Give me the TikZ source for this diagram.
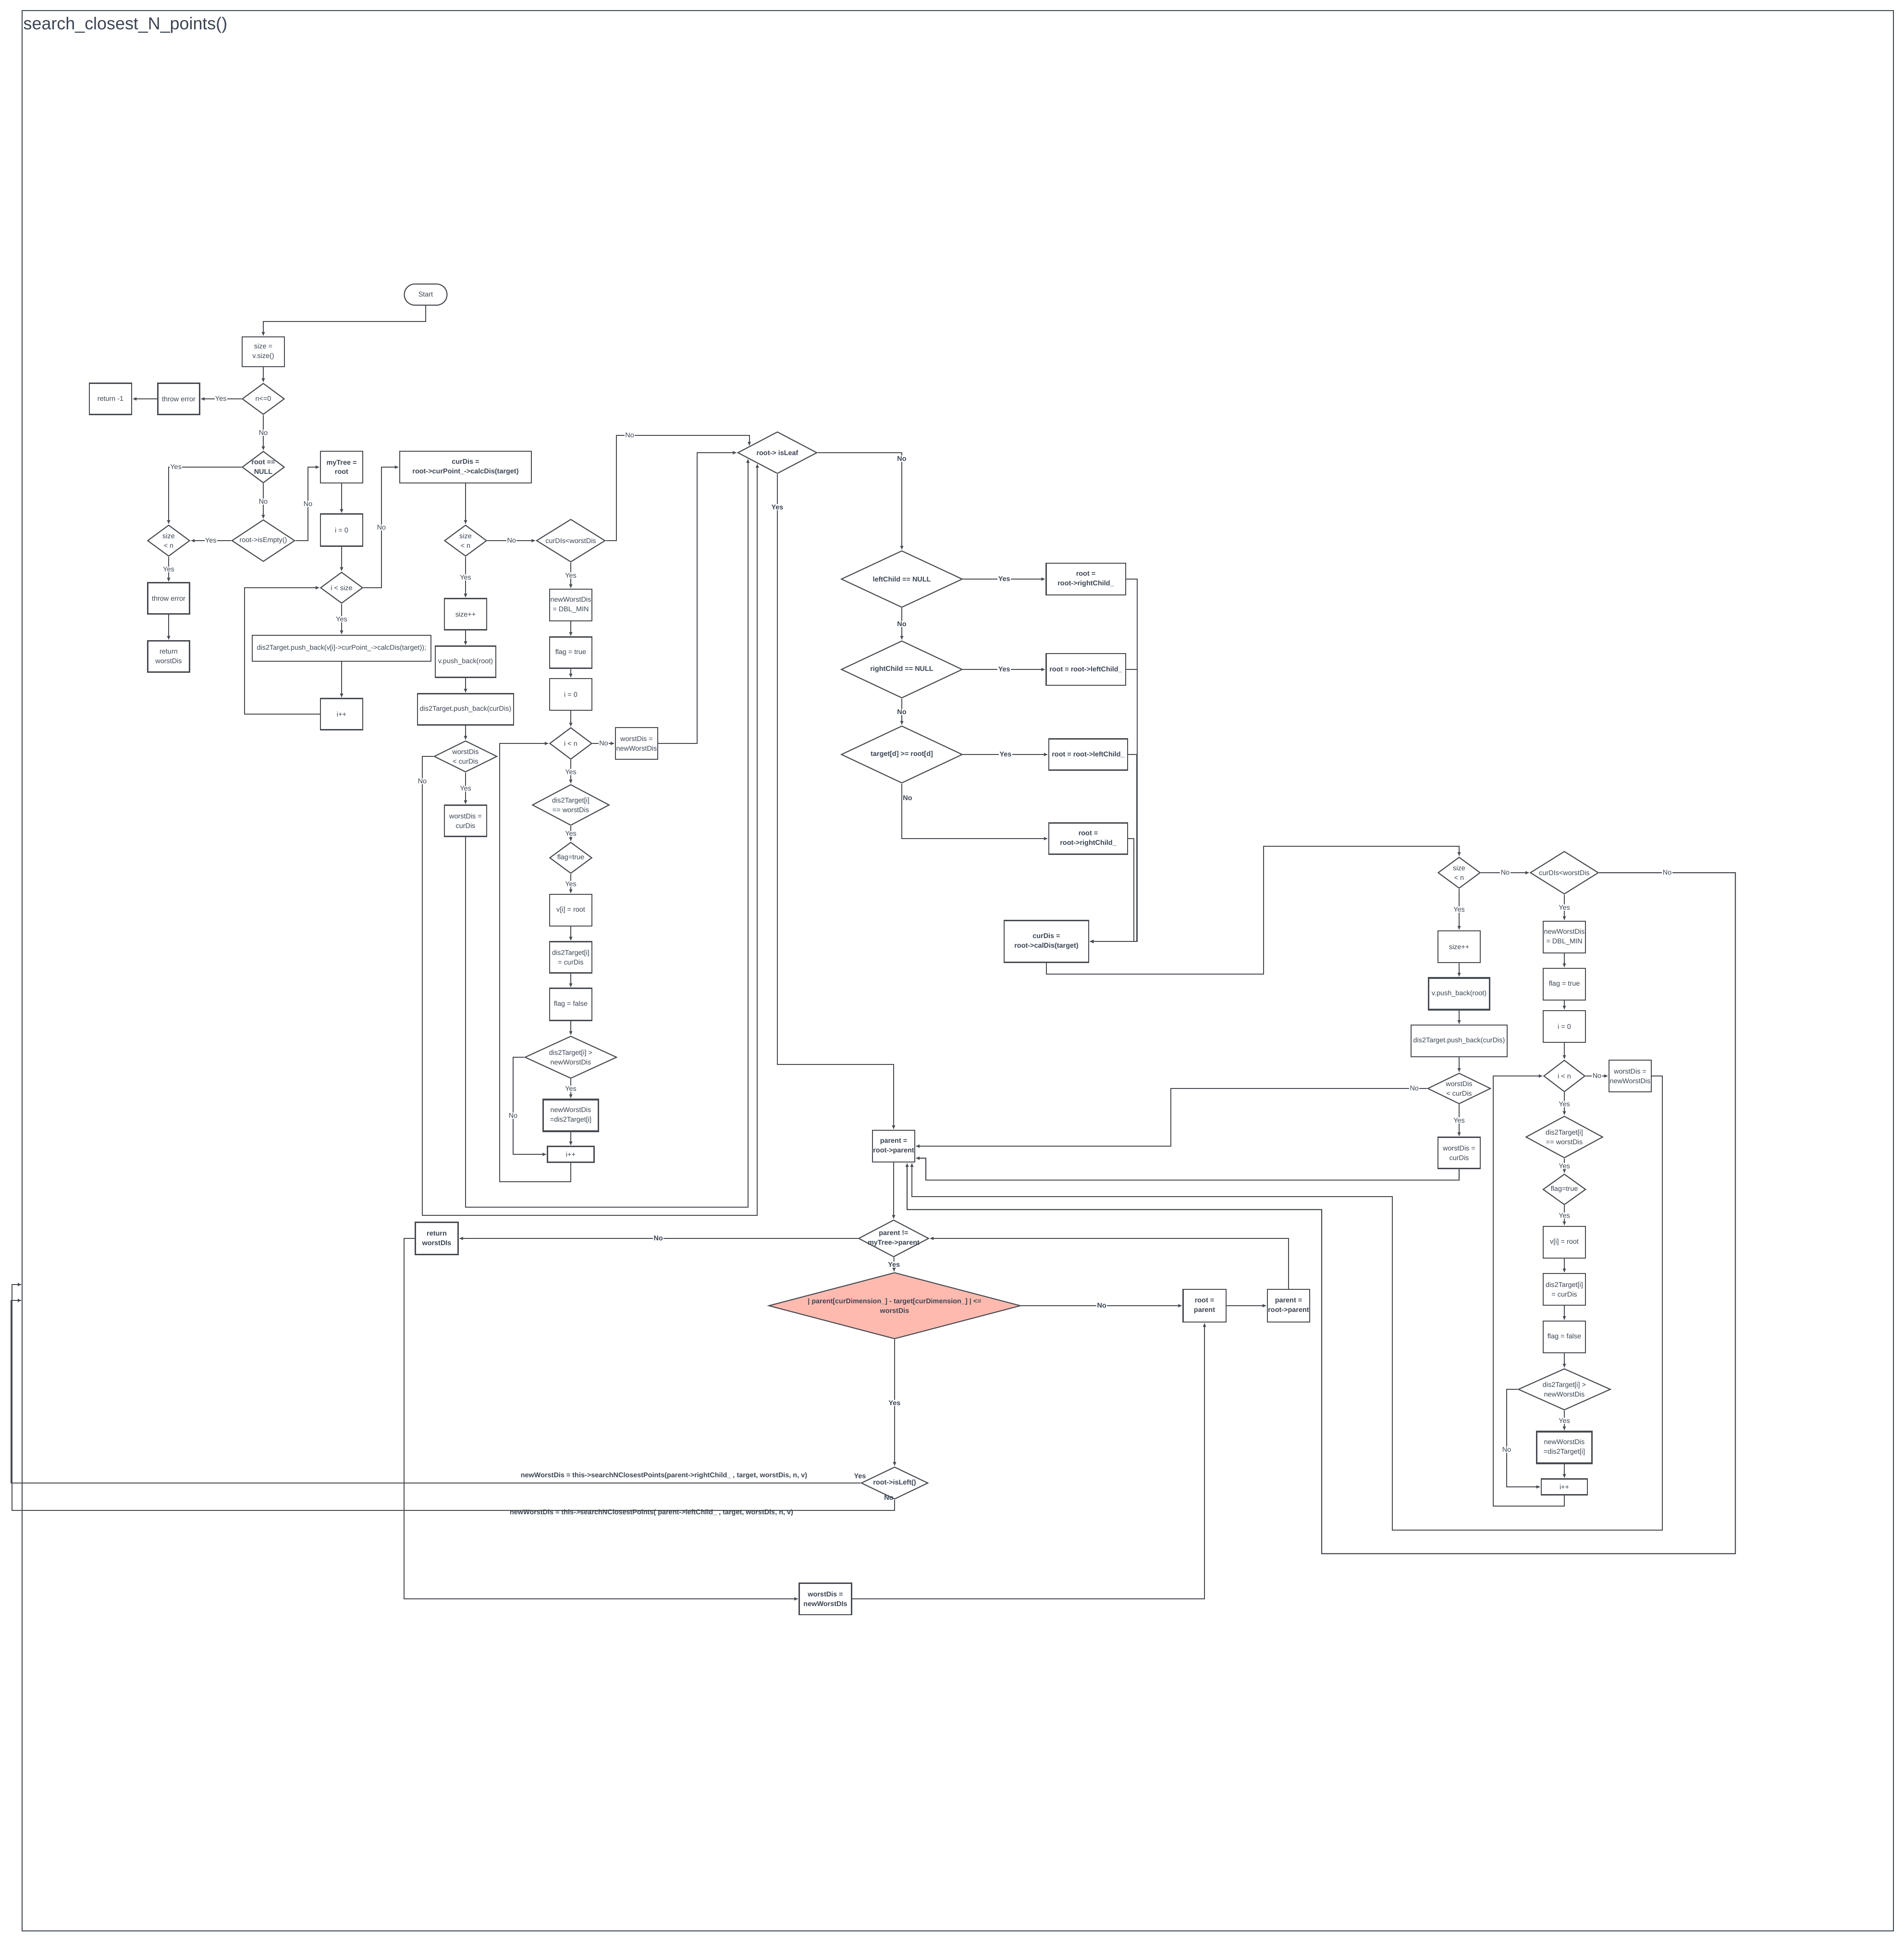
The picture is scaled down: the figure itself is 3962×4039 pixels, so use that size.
\documentclass[tikz,border=0pt]{standalone}
\usepackage{fontspec}
\setmainfont{Liberation Sans}
\usepackage{tikz}
\usetikzlibrary{positioning,arrows.meta,shapes.geometric}
\definecolor{chartgrey}{HTML}{474B51}
\definecolor{chartink}{HTML}{3B4553}
\definecolor{chartpink}{HTML}{FFBAB0}

\begin{document}
\begin{tikzpicture}[x=0.01cm, y=-0.01cm,
      proc/.style={rectangle, draw=chartgrey, line width=0.6pt, fill=white,
        minimum width=0.88cm, minimum height=0.66cm, inner sep=0.3pt,
        align=center, text=chartink, font=\fontsize{4.1}{5.6}\selectfont},
      bproc/.style={proc, font=\fontsize{4.1}{5.6}\selectfont\bfseries},
      dec/.style={diamond, draw=chartgrey, line width=0.6pt, fill=white,
        minimum width=0.88cm, minimum height=0.65cm, aspect=1.4, inner sep=0pt,
        align=center, text=chartink, font=\fontsize{4.1}{5.6}\selectfont},
      bdec/.style={dec, font=\fontsize{4.1}{5.6}\selectfont\bfseries},
      term/.style={proc, rounded corners=0.22cm, minimum width=0.89cm, minimum height=0.44cm},
      thk/.style={line width=0.9pt},
      lbl/.style={fill=white, inner sep=0.4pt, text=chartink, font=\fontsize{4.1}{5}\selectfont},
      blbl/.style={lbl, font=\fontsize{4.1}{5}\selectfont\bfseries},
      arr/.style={-{Latex[length=0.09cm, width=0.075cm]}, draw=chartgrey, line width=0.6pt},
      frame/.style={draw=chartink, line width=0.6pt}
    ]
      \useasboundingbox (0,0) rectangle (3962,4039);
      \draw[frame] (46,22) rectangle (3941,4018);
      \node[anchor=base west, inner sep=0pt, text=chartink, font=\fontsize{10.2}{12}\selectfont] (title) at (48,61) {search\_closest\_N\_points()};
      \coordinate (entryA) at (46,2673);
      \coordinate (entryB) at (46,2706);

      % nodes
      \node[term] (start) at (886,613) {Start};
      \node[proc, minimum height=0.62cm] (size) at (548,732) {size =\\v.size()};
      \node[dec] (nle) at (548,830) {n<=0};
      \node[proc, minimum width=0.87cm, minimum height=0.65cm] (throwA) at (372,830) {throw error};
      \node[proc, minimum height=0.65cm] (retA) at (230,830) {return -1};
      \node[bdec, minimum height=0.66cm, aspect=1.33] (rootnull) at (548,972) {root ==\\NULL};
      \node[dec, minimum width=1.31cm, minimum height=0.87cm, aspect=1.5] (isempty) at (548,1125) {root->isEmpty()};
      \node[dec] (sizeA) at (351,1125) {size\\< n};
      \node[proc, minimum width=0.87cm, minimum height=0.65cm] (throwB) at (351,1245) {throw error};
      \node[proc, minimum width=0.87cm, minimum height=0.65cm] (retB) at (351,1366) {return\\worstDis};

      \node[bproc] (mytree) at (711,972) {myTree =\\root};
      \node[proc, minimum height=0.67cm] (izeroA) at (711,1103) {i = 0};
      \node[dec] (isize) at (711,1223) {i < size};
      \node[proc, minimum width=3.72cm, minimum height=0.54cm] (pushA) at (711,1349) {dis2Target.push\_back(v[i]->curPoint\_->calcDis(target));};
      \node[proc, minimum height=0.65cm] (iincA) at (711,1486) {i++};

      \node[bproc, minimum width=2.74cm] (curdisA) at (969,972) {curDis =\\root->curPoint\_->calcDis(target)};
      \node[dec] (sizeB) at (969,1125) {size\\< n};
      \node[proc, minimum height=0.65cm] (sizeincB) at (969,1278) {size++};
      \node[proc, minimum width=1.26cm, minimum height=0.65cm] (vpushB) at (969,1377) {v.push\_back(root)};
      \node[proc, minimum width=2.0cm, minimum height=0.65cm] (dpushB) at (969,1476) {dis2Target.push\_back(curDis)};
      \node[dec, minimum width=1.31cm, minimum height=0.65cm, aspect=2] (wlessB) at (969,1574) {worstDis\\< curDis};
      \node[proc, minimum height=0.65cm] (weqB) at (969,1708) {worstDis =\\curDis};
      \node[dec, minimum width=1.43cm, minimum height=0.89cm, aspect=1.6] (cltB) at (1188,1125) {curDIs<worstDis};
      \node[proc] (nwdB) at (1188,1259) {newWorstDis\\= DBL\_MIN};
      \node[proc, minimum height=0.65cm] (flagtB) at (1188,1358) {flag = true};
      \node[proc] (izeroB) at (1188,1445) {i = 0};
      \node[dec, minimum height=0.66cm] (iltnB) at (1188,1547) {i < n};
      \node[proc] (wnewB) at (1325,1547) {worstDis =\\newWorstDis};
      \node[dec, minimum width=1.6cm, minimum height=0.85cm, aspect=1.9] (deqB) at (1188,1675) {dis2Target[i]\\== worstDis};
      \node[dec] (fdecB) at (1188,1785) {flag=true};
      \node[proc] (vrootB) at (1188,1894) {v[i] = root};
      \node[proc, minimum height=0.65cm] (dsetB) at (1188,1992) {dis2Target[i]\\= curDis};
      \node[proc, minimum height=0.67cm] (flagfB) at (1188,2090) {flag = false};
      \node[dec, minimum width=1.91cm, minimum height=0.88cm, aspect=2.2] (dgtB) at (1188,2200) {dis2Target[i] >\\newWorstDis};
      \node[proc, thk, minimum width=1.15cm] (nwsetB) at (1188,2321) {newWorstDis\\=dis2Target[i]};
      \node[proc, minimum width=0.97cm, minimum height=0.33cm] (iincB) at (1188,2402) {i++};

      \node[bdec, minimum width=1.65cm, minimum height=0.87cm, aspect=1.9] (isleaf) at (1618,942) {root-> isLeaf};
      \node[bdec, minimum width=2.52cm, minimum height=1.18cm, aspect=2.1] (lnull) at (1877,1205) {leftChild == NULL};
      \node[bdec, minimum width=2.52cm, minimum height=1.19cm, aspect=2.1] (rnull) at (1877,1393) {rightChild == NULL};
      \node[bdec, minimum width=2.52cm, minimum height=1.19cm, aspect=2.1] (tge) at (1877,1570) {target[d] >= root[d]};
      \node[bproc, minimum width=1.65cm] (rrA) at (2260,1205) {root =\\root->rightChild\_};
      \node[bproc, minimum width=1.65cm] (rlA) at (2260,1393) {root = root->leftChild\_};
      \node[bproc, minimum width=1.64cm, minimum height=0.65cm] (rlB) at (2265,1570) {root = root->leftChild\_};
      \node[bproc, minimum width=1.64cm, minimum height=0.65cm] (rrB) at (2265,1745) {root =\\root->rightChild\_};
      \node[bproc, minimum width=1.76cm, minimum height=0.87cm] (curdisC) at (2178,1959) {curDis =\\root->calDis(target)};

      \node[dec] (sizeC) at (3037,1816) {size\\< n};
      \node[dec, minimum width=1.42cm, minimum height=0.89cm, aspect=1.6] (cltC) at (3256,1816) {curDIs<worstDis};
      \node[proc] (sizeincC) at (3037,1970) {size++};
      \node[proc, thk, minimum width=1.27cm] (vpushC) at (3037,2068) {v.push\_back(root)};
      \node[proc, minimum width=2.0cm] (dpushC) at (3037,2166) {dis2Target.push\_back(curDis)};
      \node[dec, minimum width=1.31cm, minimum height=0.64cm, aspect=2] (wlessC) at (3037,2265) {worstDis\\< curDis};
      \node[proc, minimum height=0.65cm] (weqC) at (3037,2399) {worstDis =\\curDis};
      \node[proc] (nwdC) at (3256,1950) {newWorstDis\\= DBL\_MIN};
      \node[proc] (flagtC) at (3256,2048) {flag = true};
      \node[proc] (izeroC) at (3256,2136) {i = 0};
      \node[dec, minimum width=0.86cm, minimum height=0.66cm] (iltnC) at (3256,2239) {i < n};
      \node[proc] (wnewC) at (3393,2239) {worstDis =\\newWorstDis};
      \node[dec, minimum width=1.6cm, minimum height=0.87cm, aspect=1.9] (deqC) at (3256,2366) {dis2Target[i]\\== worstDis};
      \node[dec, minimum width=0.89cm, minimum height=0.64cm] (fdecC) at (3256,2475) {flag=true};
      \node[proc] (vrootC) at (3256,2585) {v[i] = root};
      \node[proc] (dsetC) at (3256,2683) {dis2Target[i]\\= curDis};
      \node[proc] (flagfC) at (3256,2782) {flag = false};
      \node[dec, minimum width=1.92cm, minimum height=0.86cm, aspect=2.2] (dgtC) at (3256,2891) {dis2Target[i] >\\newWorstDis};
      \node[proc, thk, minimum width=1.15cm] (nwsetC) at (3256,3012) {newWorstDis\\=dis2Target[i]};
      \node[proc, minimum width=0.96cm, minimum height=0.33cm] (iincC) at (3256,3094) {i++};

      \node[bproc, minimum width=0.87cm] (parentA) at (1860,2385) {parent =\\root->parent};
      \node[bdec, minimum width=1.46cm, minimum height=0.77cm, aspect=1.9, inner sep=-2pt] (pneq) at (1860,2577) {parent !=\\myTree->parent};
      \node[bdec, minimum width=5.24cm, minimum height=1.38cm, aspect=3.8, fill=chartpink] (pink) at (1862,2717) {| parent[curDimension\_] - target[curDimension\_] | <=\\worstDis};
      \node[bproc, minimum width=0.89cm, minimum height=0.68cm] (rootpar) at (2507,2717) {root =\\parent};
      \node[bproc, minimum height=0.68cm] (parentB) at (2682,2717) {parent =\\root->parent};
      \node[bdec, minimum width=1.39cm, minimum height=0.67cm, aspect=2] (isleft) at (1862,3086) {root->isLeft()};
      \node[bproc, minimum width=0.89cm, minimum height=0.67cm] (retC) at (909,2577) {return\\worstDIs};
      \node[bproc, minimum width=1.09cm, minimum height=0.65cm] (wnewD) at (1718,3327) {worstDis =\\newWorstDIs};
      \node[blbl, fill=none] (callR) at (1382,3071) {newWorstDis = this->searchNClosestPoints(parent->rightChild\_ , target, worstDis, n, v)};
      \node[blbl, fill=none] (callL) at (1356,3148) {newWorstDis = this->searchNClosestPoints( parent->leftChild\_ , target, worstDis, n, v)};
      \node[blbl, fill=none] (yesL) at (1790,3072) {Yes};
      \node[blbl, fill=none] (noL) at (1850,3117) {No};

      % connectors
      \draw[arr] (start.south) -- ++(0,33) -| (size.north);
      \draw[arr] (size) -- (nle);
      \draw[arr] (nle) -- node[lbl]{Yes} (throwA);
      \draw[arr] (throwA) -- (retA);
      \draw[arr] (nle) -- node[lbl]{No} (rootnull);
      \draw[arr] (rootnull.west) -| node[lbl, pos=0.45]{Yes} (sizeA.north);
      \draw[arr] (rootnull) -- node[lbl]{No} (isempty);
      \draw[arr] (isempty) -- node[lbl]{Yes} (sizeA);
      \draw[arr] (isempty.east) -- (641,1125) -- node[lbl]{No} (641,972) -- (mytree.west);
      \draw[arr] (sizeA) -- node[lbl]{Yes} (throwB);
      \draw[arr] (throwB) -- (retB);

      \draw[arr] (mytree) -- (izeroA);
      \draw[arr] (izeroA) -- (isize);
      \draw[arr] (isize) -- node[lbl]{Yes} (pushA);
      \draw[arr] (pushA) -- (iincA);
      \draw[arr] (iincA.west) -- (509,1486) |- (isize.west);
      \draw[arr] (isize.east) -- (794,1223) -- node[lbl]{No} (794,972) -- (curdisA.west);

      \draw[arr] (curdisA) -- (sizeB);
      \draw[arr] (sizeB) -- node[lbl]{Yes} (sizeincB);
      \draw[arr] (sizeincB) -- (vpushB);
      \draw[arr] (vpushB) -- (dpushB);
      \draw[arr] (dpushB) -- (wlessB);
      \draw[arr] (wlessB) -- node[lbl]{Yes} (weqB);
      \draw[arr] (sizeB) -- node[lbl]{No} (cltB);
      \draw[arr] (cltB) -- node[lbl]{Yes} (nwdB);
      \draw[arr] (nwdB) -- (flagtB);
      \draw[arr] (flagtB) -- (izeroB);
      \draw[arr] (izeroB) -- (iltnB);
      \draw[arr] (iltnB) -- node[lbl]{No} (wnewB);
      \draw[arr] (iltnB) -- node[lbl]{Yes} (deqB);
      \draw[arr] (deqB) -- node[lbl]{Yes} (fdecB);
      \draw[arr] (fdecB) -- node[lbl]{Yes} (vrootB);
      \draw[arr] (vrootB) -- (dsetB);
      \draw[arr] (dsetB) -- (flagfB);
      \draw[arr] (flagfB) -- (dgtB);
      \draw[arr] (dgtB) -- node[lbl]{Yes} (nwsetB);
      \draw[arr] (nwsetB) -- (iincB);
      \draw[arr] (dgtB.west) -- (1068,2200) -- node[lbl, pos=0.6]{No} (1068,2402) -- (iincB.west);
      \draw[arr] (iincB.south) -- ++(0,39) -| (1040,1547) -- (iltnB.west);
      \draw[arr] (cltB.east) -- (1283,1125) -- (1283,906) -| node[lbl, pos=0.05]{No} (isleaf.167);
      \draw[arr] (wnewB.east) -- (1451,1547) |- (isleaf.west);
      \draw[arr] (weqB.south) -- (969,2512) -| (isleaf.191);
      \draw[arr] (wlessB.west) -- (879,1574) -- node[lbl, pos=0.054]{No} (879,2529) -| (isleaf.south west);

      \draw[arr] (isleaf.east) -| node[blbl, pos=0.53]{No} (lnull.north);
      \draw[arr] (isleaf.south) -- node[blbl, pos=0.056]{Yes} (1618,2215) -| (parentA.north);
      \draw[arr] (lnull) -- node[blbl]{Yes} (rrA);
      \draw[arr] (lnull) -- node[blbl]{No} (rnull);
      \draw[arr] (rnull) -- node[blbl]{Yes} (rlA);
      \draw[arr] (rnull) -- node[blbl]{No} (tge);
      \draw[arr] (tge) -- node[blbl]{Yes} (rlB);
      \draw[arr] (tge.south) |- node[blbl, pos=0.13, right, fill=none]{No} (rrB.west);
      \draw[arr] (rrA.east) -- ++(23,0) |- (curdisC.east);
      \draw[arr] (rlA.east) -- ++(23,0) |- (curdisC.east);
      \draw[arr] (rlB.east) -- ++(18,0) |- (curdisC.east);
      \draw[arr] (rrB.east) -- ++(12,0) |- (curdisC.east);
      \draw[arr] (curdisC.south) -- ++(0,23) -| (2630,1761) -| (sizeC.north);

      \draw[arr] (sizeC) -- node[lbl]{No} (cltC);
      \draw[arr] (sizeC) -- node[lbl]{Yes} (sizeincC);
      \draw[arr] (sizeincC) -- (vpushC);
      \draw[arr] (vpushC) -- (dpushC);
      \draw[arr] (dpushC) -- (wlessC);
      \draw[arr] (wlessC) -- node[lbl]{Yes} (weqC);
      \draw[arr] (wlessC.west) -- node[lbl, pos=0.05]{No} (2437,2265) |- (parentA.east);
      \draw[arr] (weqC.south) -- ++(0,23) -| (1927,2410) -- ([yshift=-0.25cm]parentA.east);
      \draw[arr] (cltC) -- node[lbl]{Yes} (nwdC);
      \draw[arr] (nwdC) -- (flagtC);
      \draw[arr] (flagtC) -- (izeroC);
      \draw[arr] (izeroC) -- (iltnC);
      \draw[arr] (iltnC) -- node[lbl]{No} (wnewC);
      \draw[arr] (iltnC) -- node[lbl]{Yes} (deqC);
      \draw[arr] (deqC) -- node[lbl]{Yes} (fdecC);
      \draw[arr] (fdecC) -- node[lbl]{Yes} (vrootC);
      \draw[arr] (vrootC) -- (dsetC);
      \draw[arr] (dsetC) -- (flagfC);
      \draw[arr] (flagfC) -- (dgtC);
      \draw[arr] (dgtC) -- node[lbl]{Yes} (nwsetC);
      \draw[arr] (nwsetC) -- (iincC);
      \draw[arr] (dgtC.west) -- (3136,2891) -- node[lbl, pos=0.62]{No} (3136,3094) -- (iincC.west);
      \draw[arr] (iincC.south) -- ++(0,22) -| (3108,2239) -- (iltnC.west);
      \draw[arr] (cltC.east) -- node[lbl]{No} (3612,1816) |- (2751,3233) |- (1888,2517) -- ([xshift=0.28cm]parentA.south);
      \draw[arr] (wnewC.east) -| (3460,3184) -| (2898,2490) -| ([xshift=0.38cm]parentA.south);

      \draw[arr] (parentA) -- (pneq);
      \draw[arr] (pneq) -- node[blbl]{No} (retC);
      \draw[arr] (pneq) -- node[blbl]{Yes} (pink);
      \draw[arr] (pink) -- node[blbl]{No} (rootpar);
      \draw[arr] (rootpar) -- (parentB);
      \draw[arr] (parentB.north) |- (pneq.east);
      \draw[arr] (pink) -- node[blbl]{Yes} (isleft);
      \draw[arr] (isleft.west) -- (23,3086) |- (entryB);
      \draw[arr] (isleft.south) -- ++(0,22) -| (25,2673) -- (entryA);
      \draw[arr] (retC.west) -- ++(-22,0) |- (wnewD.west);
      \draw[arr] (wnewD.east) -| (rootpar.south);
    \end{tikzpicture}
\end{document}
